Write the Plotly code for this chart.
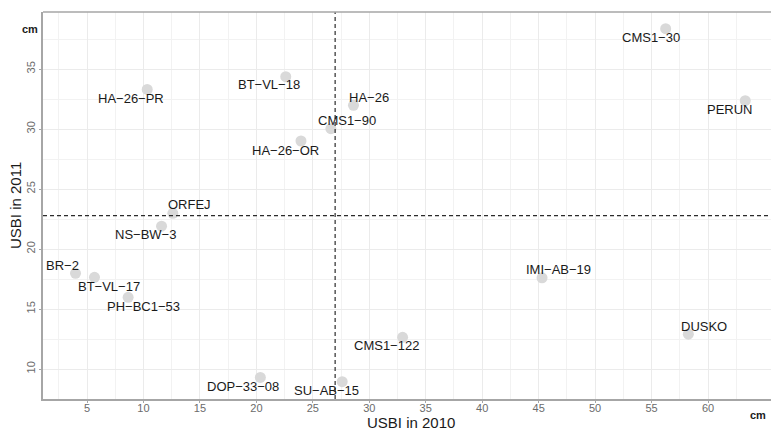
import plotly.graph_objects as go

# Cultivars and their USBI values (cm) for the two seasons
cultivars = ["HA−26−PR", "ORFEJ", "NS−BW−3", "BR−2", "BT−VL−17", "PH−BC1−53",
             "DOP−33−08", "SU−AB−15", "CMS1−122", "BT−VL−18", "HA−26", "CMS1−90",
             "HA−26−OR", "CMS1−30", "PERUN", "IMI−AB−19", "DUSKO"]
usbi_2010 = [10.33, 12.6, 11.6, 3.98, 5.66, 8.64, 20.35, 27.6, 32.95, 22.6, 28.6,
             26.6, 23.95, 56.25, 63.3, 45.3, 58.26]
usbi_2011 = [33.3, 22.97, 21.9, 17.97, 17.64, 15.97, 9.3, 8.94, 12.64, 34.36, 31.97,
             30.03, 29.0, 38.36, 32.36, 17.6, 12.9]
# label offsets in pixels (right, up) relative to each point
label_dx = [-16, 17, -16, -13, 15, 15, -17, -16, -16, -17, 16, 16, -15, -15, -15, 16, 16]
label_dy = [-9, 9, -8, 8, -9, -9, -9, -9, -8, -8, 8, 8, -9, -9, -9, 8, 8]

x_ticks = [5, 10, 15, 20, 25, 30, 35, 40, 45, 50, 55, 60]
y_ticks = [10, 15, 20, 25, 30, 35]

mean_x = sum(usbi_2010) / len(usbi_2010)
mean_y = sum(usbi_2011) / len(usbi_2011)

FONT = "Liberation Sans, Arial, Helvetica, sans-serif"

fig = go.Figure()
fig.add_trace(go.Scatter(
    x=usbi_2010, y=usbi_2011, mode="markers",
    marker=dict(size=11, color="#d9d9d9", line=dict(width=0)),
    hovertext=cultivars, showlegend=False,
))

annotations = []
for name, x, y, dx, dy in zip(cultivars, usbi_2010, usbi_2011, label_dx, label_dy):
    annotations.append(dict(
        x=x, y=y, xref="x", yref="y", text=name, showarrow=False,
        xshift=dx, yshift=dy, font=dict(family=FONT, size=13, color="#1a1a1a"),
    ))

annotations += [
    dict(x=0.5, y=0, xref="paper", yref="paper", text="USBI in 2010", showarrow=False,
         xanchor="center", yanchor="top", yshift=-13, xshift=4,
         font=dict(family=FONT, size=15, color="#1a1a1a")),
    dict(x=0, y=0.5, xref="paper", yref="paper", text="USBI in 2011", showarrow=False,
         xanchor="right", yanchor="middle", xshift=-17, textangle=-90,
         font=dict(family=FONT, size=15, color="#1a1a1a")),
    dict(x=-0.018, y=0.956, xref="paper", yref="paper", text="<b>cm</b>", showarrow=False,
         xanchor="center", yanchor="middle",
         font=dict(family=FONT, size=11, color="#1a1a1a")),
    dict(x=0.982, y=-0.041, xref="paper", yref="paper", text="<b>cm</b>", showarrow=False,
         xanchor="center", yanchor="middle",
         font=dict(family=FONT, size=11, color="#1a1a1a")),
]

shapes = [
    dict(type="line", xref="x", yref="paper", x0=mean_x, x1=mean_x, y0=0, y1=1,
         line=dict(color="#2b2b2b", width=1.2, dash="4px,3px")),
    dict(type="line", xref="paper", yref="y", x0=0, x1=1, y0=mean_y, y1=mean_y,
         line=dict(color="#2b2b2b", width=1.2, dash="4px,3px")),
    dict(type="line", xref="paper", yref="paper", x0=0, x1=1, y0=1, y1=1,
         line=dict(color="#a6a6a6", width=1.5)),
]

axis_common = dict(
    showline=True, linecolor="#a6a6a6", linewidth=1.5,
    ticks="outside", ticklen=2, tickcolor="#a6a6a6", tickwidth=1,
    showgrid=True, gridcolor="#ebebeb", gridwidth=1, zeroline=False,
    tickfont=dict(family=FONT, size=11, color="#6b6b6b"),
)

fig.update_layout(
    width=771, height=430,
    margin=dict(l=43, r=0, t=12, b=31),
    paper_bgcolor="white", plot_bgcolor="white",
    xaxis=dict(range=[1.1, 65.58], tickvals=x_ticks, ticklabelstandoff=-4,
               minor=dict(tickvals=[v + 2.5 for v in [0] + x_ticks], showgrid=True,
                          gridcolor="#f2f2f2", gridwidth=0.8, ticks=""),
               **axis_common),
    yaxis=dict(range=[7.5, 39.75], tickvals=y_ticks, tickangle=-90,
               minor=dict(tickvals=[v + 2.5 for v in [5] + y_ticks], showgrid=True,
                          gridcolor="#f2f2f2", gridwidth=0.8, ticks=""),
               **axis_common),
    annotations=annotations, shapes=shapes,
)

fig.write_html("out.html")
